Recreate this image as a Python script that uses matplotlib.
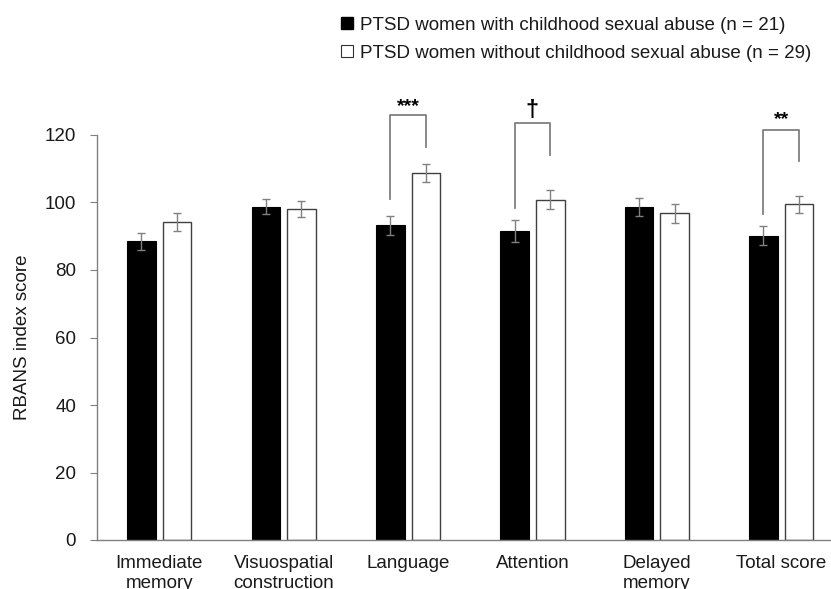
import matplotlib.pyplot as plt
from matplotlib.lines import Line2D
import numpy as np

plt.rcParams['font.family'] = ['Liberation Sans', 'DejaVu Sans']

categories = ['Immediate\nmemory', 'Visuospatial\nconstruction', 'Language',
              'Attention', 'Delayed\nmemory', 'Total score']
csa_mean = [88.5, 98.8, 93.2, 91.5, 98.6, 90.2]
csa_err = [2.6, 2.2, 2.8, 3.3, 2.6, 2.8]
no_csa_mean = [94.2, 98.1, 108.7, 100.8, 96.8, 99.5]
no_csa_err = [2.6, 2.3, 2.7, 2.8, 2.8, 2.5]

# significance brackets: category index, left foot, top, right foot, label
sig_idx = [2, 3, 5]
sig_left = [100.9, 98.3, 96.6]
sig_top = [125.9, 123.6, 121.5]
sig_right = [116.4, 114.1, 112.3]
sig_label = ['***', '\u2020', '**']
sig_label_y = [126.0, 123.9, 122.0]
sig_size = [14, 17, 14]

legend_labels = ['PTSD women with childhood sexual abuse (n = 21)',
                 'PTSD women without childhood sexual abuse (n = 29)']

fig = plt.figure(figsize=(8.31, 5.89), dpi=100)
ax = fig.add_axes([97 / 831, 49 / 589, 734 / 831, 405 / 589])

x = np.arange(len(categories))
w = 0.23
off = 0.143
gray = '#808080'
txt = '#1a1a1a'
fs = 13.5

ax.bar(x - off, csa_mean, w, color='black', edgecolor='black', linewidth=0.8)
ax.bar(x + off, no_csa_mean, w, color='white', edgecolor='#404040', linewidth=1.0)
ax.errorbar(x - off, csa_mean, yerr=csa_err, fmt='none', ecolor=gray,
            elinewidth=1, capsize=3, capthick=1)
ax.errorbar(x + off, no_csa_mean, yerr=no_csa_err, fmt='none', ecolor=gray,
            elinewidth=1, capsize=3, capthick=1)

for i, yl, yt, yr, lab, ly, sz in zip(sig_idx, sig_left, sig_top, sig_right,
                                      sig_label, sig_label_y, sig_size):
    ax.plot([i - off, i - off, i + off, i + off], [yl, yt, yt, yr],
            color=gray, lw=1.3, clip_on=False)
    ax.text(i, ly, lab, ha='center', va='bottom', fontsize=sz,
            fontweight='bold', color='black', clip_on=False)

ax.set_xlim(-0.5, 5.4)
ax.set_ylim(0, 120)
ax.set_yticks(range(0, 121, 20))
ax.set_xticks(x)
# second line of the two-line labels runs off the bottom, as in the source
ax.set_xticklabels(categories, fontsize=fs, color=txt, linespacing=1.2)
ax.tick_params(axis='x', length=0, pad=11)
ax.tick_params(axis='y', labelsize=fs, labelcolor=txt, color=gray,
               length=5, pad=10)
for s in ['top', 'right']:
    ax.spines[s].set_visible(False)
for s in ['left', 'bottom']:
    ax.spines[s].set_color(gray)
    ax.spines[s].set_linewidth(1)
ax.set_ylabel('RBANS index score', fontsize=fs, color=txt, labelpad=10)

handles = [Line2D([], [], marker='s', linestyle='none', markersize=8,
                  markerfacecolor='black', markeredgecolor='black'),
           Line2D([], [], marker='s', linestyle='none', markersize=8,
                  markerfacecolor='white', markeredgecolor='#333333',
                  markeredgewidth=0.8)]
fig.legend(handles, legend_labels, loc='upper left',
           bbox_to_anchor=(334 / 831, 1 - 9 / 589), frameon=False,
           fontsize=fs, labelcolor=txt, handlelength=0.6, handletextpad=0.4,
           labelspacing=0.6, borderaxespad=0)

fig.savefig('out.png', dpi=100)
